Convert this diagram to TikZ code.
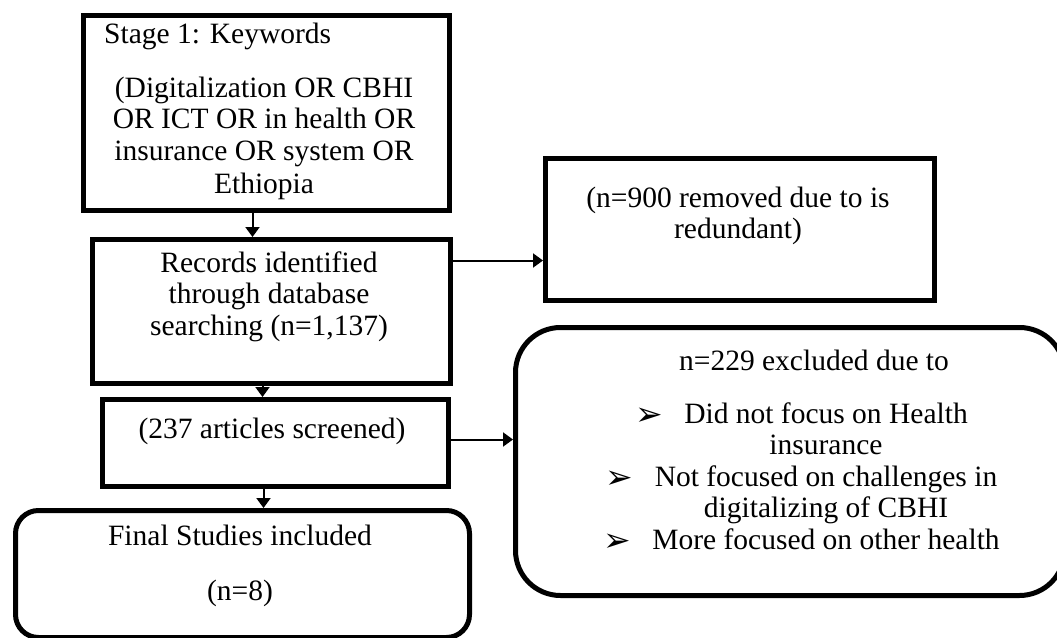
\documentclass[tikz,border=0pt]{standalone}
\usepackage{fontspec}
\setmainfont{Liberation Serif}
\newfontfamily\dejavu{DejaVu Sans}
\usetikzlibrary{arrows.meta}
\begin{document}
\begin{tikzpicture}[x=1pt,y=-1pt,
  box/.style={draw, line width=5pt, rectangle, inner sep=0pt, anchor=north west},
  rbox/.style={box, rounded corners=#1},
  txt/.style={inner sep=0pt, anchor=base, font=\fontsize{29.5}{32}\selectfont},
  bul/.style={inner sep=0pt, anchor=base west, font=\dejavu\fontsize{33}{33}\selectfont},
  arr/.style={line width=2pt, -{Triangle[length=10pt,width=14pt]}}]
\path[use as bounding box] (0,0) rectangle (1057,637);
\clip (0,0) rectangle (1057,637);

% boxes
\node[box, minimum width=366pt, minimum height=195pt] (b1) at (81,13) {};
\node[box, minimum width=358pt, minimum height=144pt] (b2) at (90,237) {};
\node[box, minimum width=346pt, minimum height=87pt] (b3) at (100,397) {};
\node[rbox=23pt, minimum width=454pt, minimum height=127pt] (fin) at (13,508) {};
\node[box, minimum width=389pt, minimum height=142pt] (n9) at (543,156) {};
\node[rbox=45pt, minimum width=549pt, minimum height=268pt] (ex) at (513,325) {};

% box 1 text
\node[txt, anchor=base west] (t10) at (104,43) {Stage 1: Keywords};
\node[txt] (t11) at (264,97) {(Digitalization OR CBHI};
\node[txt] (t12) at (264,128) {OR ICT OR in health OR};
\node[txt] (t13) at (264,160) {insurance OR system OR};
\node[txt] (t14) at (264,193) {Ethiopia};

% box 2 text
\node[txt] (t21) at (269,272) {Records identified};
\node[txt] (t22) at (269,303) {through database};
\node[txt] (t23) at (269,335) {searching (n=1,137)};

% box 3 text
\node[txt] (t31) at (272,438) {(237 articles screened)};

% final box text
\node[txt] (t41) at (240,545) {Final Studies included};
\node[txt] (t42) at (240,600) {(n=8)};

% n=900 box text
\node[txt] (t51) at (738,207) {(n=900 removed due to is};
\node[txt] (t52) at (738,238) {redundant)};

% excluded box text
\node[txt] (t60) at (814,370) {n=229 excluded due to};
\node[bul] (u1) at (635,425) {➢};
\node[txt] (t61) at (826,423) {Did not focus on Health};
\node[txt] (t62) at (826,454) {insurance};
\node[bul] (u2) at (605,488) {➢};
\node[txt] (t63) at (826,486) {Not focused on challenges in};
\node[txt] (t64) at (826,517) {digitalizing of CBHI};
\node[bul] (u3) at (603,551) {➢};
\node[txt] (t65) at (826,549) {More focused on other health};

% connectors
\draw[arr] ([xshift=-14pt]b1.south) coordinate (s1) -- (s1 |- b2.north);
\draw[arr] ([yshift=51pt]b2.east) coordinate (s2) -- (s2 -| n9.west);
\draw[arr] ([xshift=-9pt]b2.south) coordinate (s3) -- (s3 |- b3.north);
\draw[arr] ([yshift=3.5pt]b3.east) coordinate (s4) -- (s4 -| ex.west);
\draw[arr] ([xshift=-12pt]b3.south) coordinate (s5) -- (s5 |- fin.north);
\end{tikzpicture}
\end{document}
